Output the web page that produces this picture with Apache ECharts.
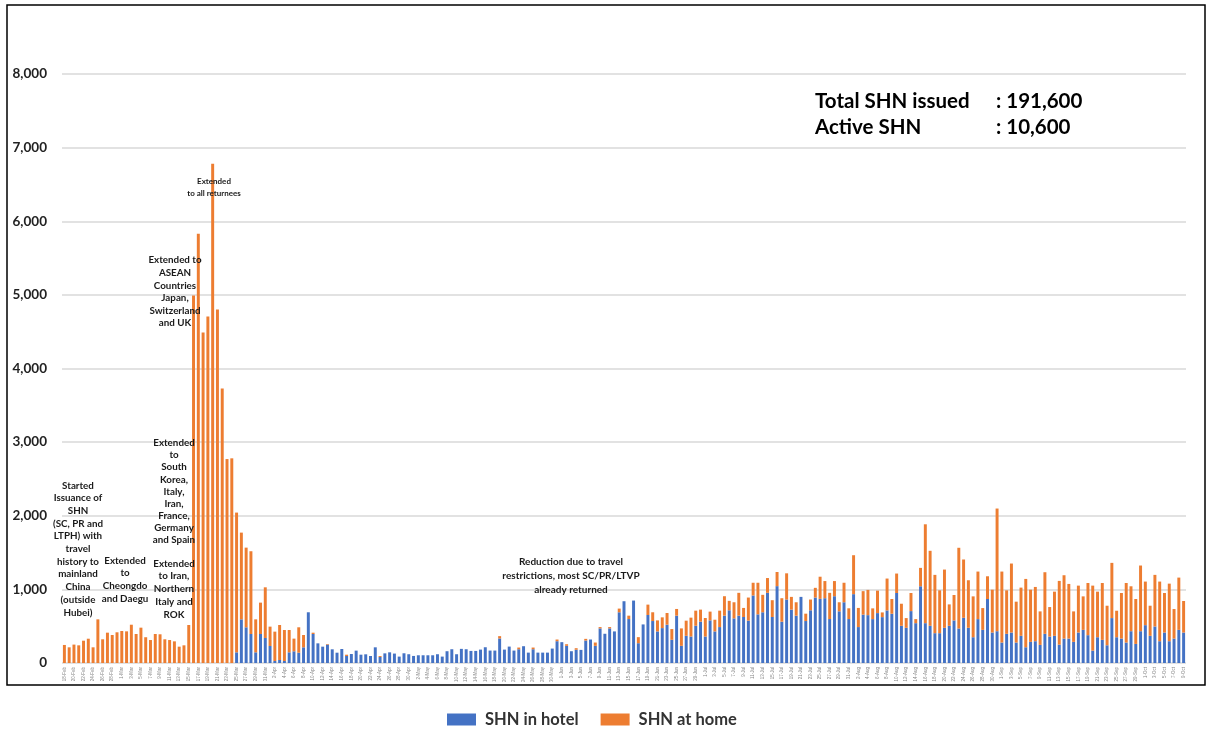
<!DOCTYPE html>
<html>
<head>
<meta charset="utf-8">
<script src="https://cdn.jsdelivr.net/npm/echarts@6/dist/echarts.min.js"></script>
<style>
  html, body { margin: 0; padding: 0; background: #fff; }
  #chart { width: 1211px; height: 729px; }
</style>
</head>
<body>
<div id="chart"></div>
<script>
// daily SHN issued, starting 18 Feb 2020
const startDate = '2020-02-18'
const dayCount = 235

const hotel = [
  0, 0, 0, 0, 0, 0, 0, 0, 0, 0,
  0, 0, 0, 0, 0, 0, 0, 0, 0, 0,
  0, 0, 0, 0, 0, 0, 0, 0, 0, 0,
  0, 0, 0, 0, 0, 0, 145, 593, 485, 394,
  145, 394, 340, 231, 27, 41, 27, 145, 159, 140,
  213, 689, 394, 267, 222, 250, 186, 140, 190, 95,
  122, 168, 113, 118, 95, 213, 82, 131, 145, 128,
  87, 132, 119, 96, 105, 105, 105, 105, 119, 87,
  160, 187, 119, 192, 187, 164, 164, 182, 214, 169,
  169, 333, 182, 223, 169, 187, 228, 141, 187, 141,
  141, 141, 196, 296, 283, 233, 160, 180, 178, 305,
  319, 233, 470, 397, 470, 429, 689, 839, 597, 848,
  269, 524, 652, 570, 429, 474, 520, 315, 643, 233,
  369, 360, 506, 561, 360, 579, 429, 488, 643, 716,
  606, 643, 625, 575, 917, 661, 689, 953, 625, 1044,
  561, 862, 725, 643, 898, 570, 716, 889, 871, 880,
  597, 907, 702, 825, 597, 935, 488, 657, 650, 596,
  678, 623, 714, 669, 951, 505, 478, 705, 541, 1042,
  541, 505, 405, 405, 478, 505, 578, 469, 614, 478,
  350, 596, 450, 869, 414, 432, 278, 396, 414, 278,
  369, 214, 287, 296, 246, 396, 359, 369, 250, 332,
  332, 287, 414, 450, 378, 168, 350, 314, 241, 610,
  350, 332, 278, 432, 259, 432, 514, 369, 496, 296,
  414, 296, 332, 450, 414
]

const home = [
  245, 213, 250, 240, 303, 330, 213, 593, 322, 412,
  380, 417, 435, 430, 520, 394, 480, 350, 312, 394,
  390, 322, 312, 294, 222, 240, 516, 4990, 5830, 4490,
  4706, 6780, 4800, 3730, 2770, 2780, 1898, 1178, 1082, 1124,
  448, 426, 688, 263, 399, 475, 421, 303, 172, 345,
  167, 0, 18, 0, 0, 8, 0, 0, 0, 18,
  0, 0, 0, 0, 0, 0, 13, 0, 0, 0,
  0, 0, 0, 0, 0, 0, 0, 0, 0, 0,
  0, 0, 0, 0, 0, 0, 0, 0, 0, 0,
  0, 32, 0, 0, 0, 23, 0, 0, 23, 0,
  0, 0, 0, 23, 0, 22, 0, 21, 0, 23,
  0, 45, 18, 0, 18, 0, 50, 0, 46, 0,
  82, 0, 141, 119, 150, 146, 159, 146, 91, 237,
  206, 256, 205, 164, 251, 119, 159, 223, 264, 128,
  219, 310, 123, 314, 173, 429, 237, 201, 228, 192,
  319, 356, 173, 182, 0, 100, 146, 132, 301, 233,
  356, 206, 123, 265, 146, 529, 260, 319, 343, 146,
  305, 64, 433, 200, 264, 300, 132, 246, 55, 250,
  1343, 1019, 792, 582, 791, 291, 346, 1096, 792, 646,
  555, 646, 296, 309, 582, 1666, 964, 591, 937, 555,
  655, 928, 709, 737, 455, 837, 401, 600, 865, 860,
  742, 414, 637, 455, 709, 883, 619, 773, 537, 750,
  360, 619, 809, 610, 610, 892, 592, 409, 701, 810,
  537, 782, 401, 710, 428
]

const yTicks = [0, 1000, 2000, 3000, 4000, 5000, 6000, 7000, 8000]

const monthNames = ['Jan', 'Feb', 'Mar', 'Apr', 'May', 'Jun', 'Jul', 'Aug', 'Sep', 'Oct', 'Nov', 'Dec']
const days = []
const d0 = new Date(startDate + 'T00:00:00Z')
for (let i = 0; i < dayCount; i++) {
  const d = new Date(d0.getTime() + i * 86400000)
  days.push(d.getUTCDate() + '-' + monthNames[d.getUTCMonth()])
}

const notes = [
  { text: 'Started\nIssuance of\nSHN\n(SC, PR and\nLTPH) with\ntravel\nhistory to\nmainland\nChina\n(outside\nHubei)', x: 78, y: 479, lh: 12.7 },
  { text: 'Extended\nto\nCheongdo\nand Daegu', x: 125, y: 554, lh: 12.8 },
  { text: 'Extended\nto\nSouth\nKorea,\nItaly,\nIran,\nFrance,\nGermany\nand Spain', x: 174, y: 437, lh: 12.1 },
  { text: 'Extended\nto Iran,\nNorthern\nItaly and\nROK', x: 174, y: 557, lh: 12.8 },
  { text: 'Extended to\nASEAN\nCountries\nJapan,\nSwitzerland\nand UK', x: 175, y: 254, lh: 12.6 },
  { text: 'Extended\nto all returnees', x: 214, y: 175, lh: 12, size: 8 },
  { text: 'Reduction due to travel\nrestrictions, most SC/PR/LTVP\nalready returned', x: 571, y: 555, lh: 14, size: 10 }
]

const chart = echarts.init(document.getElementById('chart'))

const noteGraphics = notes.map(n => ({
  type: 'text',
  z: 100,
  style: {
    x: n.x,
    y: n.y,
    text: n.text,
    align: 'center',
    verticalAlign: 'top',
    lineHeight: n.lh,
    font: 'bold ' + (n.size || 9.8) + 'px Lato',
    fill: '#1a1a1a'
  }
}))

const option = {
  animation: false,
  backgroundColor: '#fff',
  grid: {
    left: 62,
    right: 25,
    top: 74,
    bottom: 66,
    containLabel: false
  },
  legend: {
    left: 442,
    top: 706,
    itemWidth: 29,
    itemHeight: 12,
    itemGap: 22,
    icon: 'rect',
    textStyle: {
      fontFamily: 'Lato',
      fontSize: 16.5,
      fontWeight: 'bold',
      color: '#333',
      padding: [0, 0, 0, 4]
    },
    data: ['SHN in hotel', 'SHN at home']
  },
  xAxis: {
    type: 'category',
    data: days,
    axisLine: { show: false },
    axisTick: { show: false },
    axisLabel: {
      interval: 1,
      rotate: 90,
      fontSize: 4.5,
      color: '#888',
      margin: 4
    }
  },
  yAxis: {
    type: 'value',
    min: yTicks[0],
    max: yTicks[yTicks.length - 1],
    interval: 1000,
    axisLine: { show: false },
    axisTick: { show: false },
    splitLine: { lineStyle: { color: '#d9d9d9', width: 1.5 } },
    axisLabel: {
      margin: 15,
      fontFamily: 'Lato',
      fontSize: 13.5,
      fontWeight: 'bold',
      color: '#222',
      formatter: v => v.toLocaleString('en-US')
    }
  },
  series: [
    {
      name: 'SHN in hotel',
      type: 'bar',
      stack: 'shn',
      data: hotel,
      barWidth: '62%',
      itemStyle: { color: '#4472C4' }
    },
    {
      name: 'SHN at home',
      type: 'bar',
      stack: 'shn',
      data: home,
      barWidth: '62%',
      itemStyle: { color: '#ED7D31' }
    }
  ],
  graphic: [
    {
      type: 'rect',
      z: 50,
      shape: { x: 7, y: 5, width: 1198, height: 680 },
      style: { fill: 'none', stroke: '#000', lineWidth: 1.5 }
    },
    {
      type: 'text',
      z: 100,
      style: { x: 815, y: 101, text: 'Total SHN issued', font: 'bold 20.5px Lato', fill: '#000', verticalAlign: 'middle' }
    },
    {
      type: 'text',
      z: 100,
      style: { x: 996, y: 101, text: ': 191,600', font: 'bold 20.5px Lato', fill: '#000', verticalAlign: 'middle' }
    },
    {
      type: 'text',
      z: 100,
      style: { x: 815, y: 127, text: 'Active SHN', font: 'bold 20.5px Lato', fill: '#000', verticalAlign: 'middle' }
    },
    {
      type: 'text',
      z: 100,
      style: { x: 996, y: 127, text: ': 10,600', font: 'bold 20.5px Lato', fill: '#000', verticalAlign: 'middle' }
    }
  ].concat(noteGraphics)
}

chart.setOption(option)
</script>
</body>
</html>
